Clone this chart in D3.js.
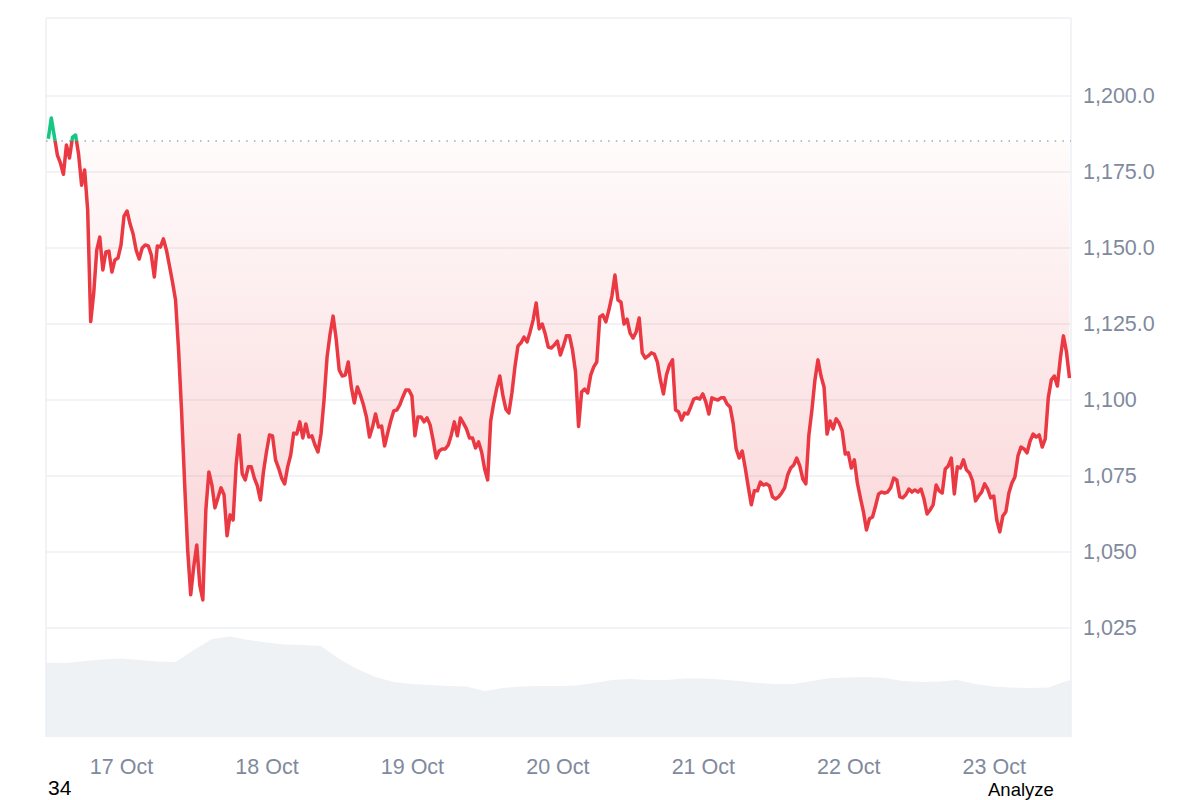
<!DOCTYPE html>
<html>
<head>
<meta charset="utf-8">
<script src="https://cdn.jsdelivr.net/npm/d3@7"></script>
<style>
  body { margin: 0; background: #fff; }
  svg text { font-family: "Liberation Sans", Arial, Helvetica, sans-serif; }
</style>
</head>
<body>
<div id="chart"></div>
<script>
// price samples, every 30 minutes from 16 Oct 12:00 (UTC)
var priceStart = Date.UTC(2024, 9, 16, 12, 0);
var priceStepMinutes = 30;
var prices = [
  1186.0, 1192.8, 1186.8, 1180.6, 1178.0, 1174.3, 1183.9, 1179.6, 1186.5, 1187.2,
  1180.9, 1170.7, 1175.7, 1162.5, 1125.8, 1135.2, 1149.3, 1153.6, 1142.8, 1148.7,
  1149.0, 1142.1, 1146.1, 1146.7, 1151.0, 1160.5, 1162.2, 1157.9, 1154.6, 1149.3,
  1146.4, 1150.0, 1151.0, 1150.7, 1147.7, 1140.5, 1150.7, 1150.3, 1153.0, 1149.3,
  1144.1, 1138.8, 1132.9, 1116.4, 1096.1, 1072.4, 1050.7, 1035.9, 1045.1, 1052.3,
  1039.1, 1034.2, 1063.8, 1076.3, 1072.0, 1064.5, 1067.8, 1071.1, 1068.8, 1055.3,
  1062.2, 1060.5, 1078.6, 1088.5, 1075.7, 1073.7, 1078.0, 1078.0, 1074.3, 1071.7,
  1067.1, 1076.3, 1082.9, 1088.5, 1088.2, 1080.3, 1077.6, 1074.3, 1072.4, 1078.0,
  1081.9, 1089.1, 1088.8, 1092.8, 1087.5, 1092.1, 1087.8, 1088.2, 1085.2, 1082.9,
  1088.8, 1100.0, 1114.1, 1121.7, 1127.6, 1120.1, 1109.9, 1107.9, 1108.2, 1112.5,
  1104.3, 1099.0, 1104.3, 1101.6, 1098.4, 1094.4, 1087.8, 1091.1, 1095.4, 1091.1,
  1091.4, 1084.9, 1089.1, 1093.1, 1096.4, 1096.7, 1098.4, 1101.0, 1103.3, 1103.3,
  1101.3, 1088.2, 1094.4, 1094.4, 1092.8, 1094.1, 1091.8, 1086.8, 1080.9, 1083.2,
  1083.9, 1083.9, 1085.2, 1088.5, 1092.8, 1088.2, 1094.1, 1092.4, 1090.5, 1087.5,
  1087.5, 1084.2, 1086.2, 1082.9, 1077.3, 1073.7, 1093.1, 1099.0, 1103.9, 1107.9,
  1101.6, 1097.0, 1095.7, 1102.3, 1110.9, 1117.8, 1118.8, 1120.7, 1119.1, 1122.4,
  1126.3, 1131.9, 1123.4, 1125.0, 1121.7, 1117.4, 1117.1, 1118.1, 1119.4, 1114.8,
  1117.8, 1121.1, 1121.1, 1116.4, 1109.2, 1091.3, 1102.6, 1103.6, 1102.3, 1108.2,
  1110.9, 1112.5, 1127.3, 1128.0, 1125.7, 1129.6, 1134.2, 1141.1, 1132.9, 1132.2,
  1125.0, 1126.6, 1122.0, 1120.4, 1122.4, 1127.0, 1115.5, 1113.8, 1114.5, 1115.5,
  1115.1, 1112.5, 1106.6, 1102.0, 1108.2, 1111.5, 1113.2, 1096.7, 1096.1, 1093.4,
  1095.7, 1095.4, 1097.7, 1100.3, 1100.7, 1100.3, 1102.0, 1099.3, 1095.4, 1100.7,
  1100.3, 1100.0, 1100.7, 1100.7, 1098.7, 1097.7, 1092.4, 1083.9, 1080.9, 1083.2,
  1077.6, 1071.4, 1065.5, 1070.1, 1070.1, 1073.0, 1072.0, 1072.4, 1071.7, 1068.1,
  1067.4, 1068.1, 1069.4, 1071.1, 1075.3, 1077.6, 1078.6, 1080.9, 1078.3, 1074.0,
  1072.4, 1088.5, 1096.7, 1106.6, 1113.2, 1107.9, 1104.3, 1088.8, 1093.1, 1090.5,
  1093.8, 1092.4, 1089.8, 1082.2, 1082.6, 1077.6, 1080.3, 1072.7, 1067.8, 1063.2,
  1057.2, 1060.9, 1061.5, 1065.1, 1069.1, 1069.7, 1069.4, 1069.7, 1071.1, 1074.3,
  1073.7, 1068.1, 1067.8, 1068.8, 1070.7, 1069.7, 1070.4, 1069.7, 1070.7, 1067.4,
  1062.5, 1063.8, 1065.5, 1072.0, 1070.1, 1069.4, 1077.3, 1078.3, 1080.9, 1069.1,
  1078.0, 1077.6, 1080.3, 1077.0, 1076.0, 1073.4, 1066.8, 1068.4, 1069.7, 1072.4,
  1070.7, 1067.8, 1068.4, 1060.5, 1056.6, 1061.8, 1063.2, 1069.4, 1072.7, 1074.7,
  1081.6, 1084.5, 1083.9, 1082.6, 1086.5, 1088.8, 1087.8, 1088.5, 1084.5, 1087.2,
  1100.7, 1106.6, 1107.9, 1104.6, 1113.8, 1121.1, 1115.8, 1107.2
];

// volume (millions), every 3 hours from 16 Oct 09:00
var volumeStart = Date.UTC(2024, 9, 16, 9, 0);
var volumeStepHours = 3;
var volumes = [
  743, 743, 740, 760, 775, 785, 770, 755, 750, 870,
  980, 1005, 970, 945, 925, 920, 910, 780, 680, 600,
  550, 530, 520, 510, 505, 460, 490, 505, 510, 510,
  515, 540, 570, 580, 570, 570, 585, 585, 575, 560,
  540, 530, 530, 560, 590, 595, 600, 590, 560, 550,
  555, 570, 530, 505, 495, 490, 495, 560, 590
];

var basePrice = 1185.2;
var priceTicks = [1025, 1050, 1075, 1100, 1125, 1150, 1175, 1200];
var priceTickLabels = ['1,025', '1,050', '1,075', '1,100', '1,125.0', '1,150.0', '1,175.0', '1,200.0'];
var dayTicks = [17, 18, 19, 20, 21, 22, 23];
var dayTickLabels = ['17 Oct', '18 Oct', '19 Oct', '20 Oct', '21 Oct', '22 Oct', '23 Oct'];

var width = 1200, height = 800;
var plot = { left: 46, right: 1071, top: 18, bottom: 737 };

var priceData = prices.map(function (p, i) {
  return { t: new Date(priceStart + i * priceStepMinutes * 60000), price: p };
});
var volumeData = volumes.map(function (v, i) {
  return { t: new Date(volumeStart + i * volumeStepHours * 3600000), vol: v };
});

var x = d3.scaleUtc()
  .domain([new Date(Date.UTC(2024, 9, 16, 11, 37, 30)), new Date(Date.UTC(2024, 9, 23, 12, 45))])
  .range([plot.left, plot.right]);

var y = d3.scaleLinear()
  .domain([989.1, 1225.7])
  .range([plot.bottom, plot.top]);

var yVol = d3.scaleLinear()
  .domain([0, 1500])
  .range([plot.bottom, plot.bottom - 150]);

var svg = d3.select('#chart').append('svg')
  .attr('width', width)
  .attr('height', height);

var defs = svg.append('defs');

defs.append('clipPath').attr('id', 'clip-plot')
  .append('rect')
  .attr('x', plot.left).attr('y', plot.top)
  .attr('width', plot.right - plot.left).attr('height', plot.bottom - plot.top);

defs.append('clipPath').attr('id', 'clip-above')
  .append('rect')
  .attr('x', plot.left).attr('y', 0)
  .attr('width', plot.right - plot.left).attr('height', y(basePrice));

defs.append('clipPath').attr('id', 'clip-below')
  .append('rect')
  .attr('x', plot.left).attr('y', y(basePrice))
  .attr('width', plot.right - plot.left).attr('height', plot.bottom - y(basePrice));

var redGrad = defs.append('linearGradient').attr('id', 'grad-red')
  .attr('gradientUnits', 'userSpaceOnUse')
  .attr('x1', 0).attr('x2', 0)
  .attr('y1', y(basePrice)).attr('y2', y(d3.min(prices)));
redGrad.append('stop').attr('offset', 0).attr('stop-color', '#ea3943').attr('stop-opacity', 0.02);
redGrad.append('stop').attr('offset', 1).attr('stop-color', '#ea3943').attr('stop-opacity', 0.22);

var greenGrad = defs.append('linearGradient').attr('id', 'grad-green')
  .attr('gradientUnits', 'userSpaceOnUse')
  .attr('x1', 0).attr('x2', 0)
  .attr('y1', y(basePrice)).attr('y2', y(d3.max(prices)));
greenGrad.append('stop').attr('offset', 0).attr('stop-color', '#16c784').attr('stop-opacity', 0.02);
greenGrad.append('stop').attr('offset', 1).attr('stop-color', '#16c784').attr('stop-opacity', 0.2);

// volume
svg.append('path')
  .datum(volumeData)
  .attr('clip-path', 'url(#clip-plot)')
  .attr('fill', '#eff2f5')
  .attr('d', d3.area()
    .x(function (d) { return x(d.t); })
    .y0(plot.bottom)
    .y1(function (d) { return yVol(d.vol); }));

// grid lines
svg.append('g')
  .selectAll('line')
  .data(priceTicks)
  .enter()
  .append('line')
    .attr('x1', plot.left).attr('x2', plot.right)
    .attr('y1', function (d) { return y(d); })
    .attr('y2', function (d) { return y(d); })
    .attr('stroke', '#eceff3')
    .attr('stroke-width', 1.5);

// frame
var frame = svg.append('g').attr('stroke', '#eceff3').attr('stroke-width', 1.5);
frame.append('line').attr('x1', plot.left).attr('x2', plot.right).attr('y1', plot.top).attr('y2', plot.top);
frame.append('line').attr('x1', plot.left).attr('x2', plot.left).attr('y1', plot.top).attr('y2', plot.bottom);
frame.append('line').attr('x1', plot.right).attr('x2', plot.right).attr('y1', plot.top).attr('y2', plot.bottom);

// fill between line and base price
var fillArea = d3.area()
  .x(function (d) { return x(d.t); })
  .y0(y(basePrice))
  .y1(function (d) { return y(d.price); });

svg.append('path').datum(priceData)
  .attr('clip-path', 'url(#clip-below)')
  .attr('fill', 'url(#grad-red)')
  .attr('d', fillArea);

svg.append('path').datum(priceData)
  .attr('clip-path', 'url(#clip-above)')
  .attr('fill', 'url(#grad-green)')
  .attr('d', fillArea);

// base price dotted line
svg.append('line')
  .attr('x1', plot.left).attr('x2', plot.right)
  .attr('y1', y(basePrice)).attr('y2', y(basePrice))
  .attr('stroke', '#a1a7bb')
  .attr('stroke-width', 1.5)
  .attr('stroke-dasharray', '1.5 6.2');

// price line, green above base and red below
var priceLine = d3.line()
  .x(function (d) { return x(d.t); })
  .y(function (d) { return y(d.price); });

svg.append('path').datum(priceData)
  .attr('clip-path', 'url(#clip-below)')
  .attr('fill', 'none')
  .attr('stroke', '#ea3943')
  .attr('stroke-width', 3.5)
  .attr('stroke-linejoin', 'round')
  .attr('d', priceLine);

svg.append('path').datum(priceData)
  .attr('clip-path', 'url(#clip-above)')
  .attr('fill', 'none')
  .attr('stroke', '#16c784')
  .attr('stroke-width', 3.5)
  .attr('stroke-linejoin', 'round')
  .attr('d', priceLine);

// y axis
var yAxis = d3.axisRight(y)
  .tickValues(priceTicks)
  .tickSize(0)
  .tickPadding(12)
  .tickFormat(function (d, i) { return priceTickLabels[i]; });

svg.append('g')
  .attr('transform', 'translate(' + plot.right + ',0)')
  .call(yAxis)
  .call(function (g) { g.select('.domain').remove(); })
  .selectAll('text')
    .attr('fill', '#808a9d')
    .style('font-size', '21.5px')
    .style('font-family', '"Liberation Sans", Arial, sans-serif');

// x axis
var xAxis = d3.axisBottom(x)
  .tickValues(dayTicks.map(function (d) { return new Date(Date.UTC(2024, 9, d)); }))
  .tickSize(0)
  .tickPadding(22)
  .tickFormat(function (d, i) { return dayTickLabels[i]; });

svg.append('g')
  .attr('transform', 'translate(0,' + plot.bottom + ')')
  .call(xAxis)
  .call(function (g) { g.select('.domain').remove(); })
  .selectAll('text')
    .attr('fill', '#808a9d')
    .style('font-size', '21.5px')
    .style('font-family', '"Liberation Sans", Arial, sans-serif');

// stray page texts
svg.append('text')
  .attr('x', 48).attr('y', 795)
  .attr('fill', '#000')
  .style('font-size', '21px')
  .text('34');

svg.append('text')
  .attr('x', 988).attr('y', 796)
  .attr('fill', '#000')
  .style('font-size', '18.5px')
  .text('Analyze');
</script>
</body>
</html>
